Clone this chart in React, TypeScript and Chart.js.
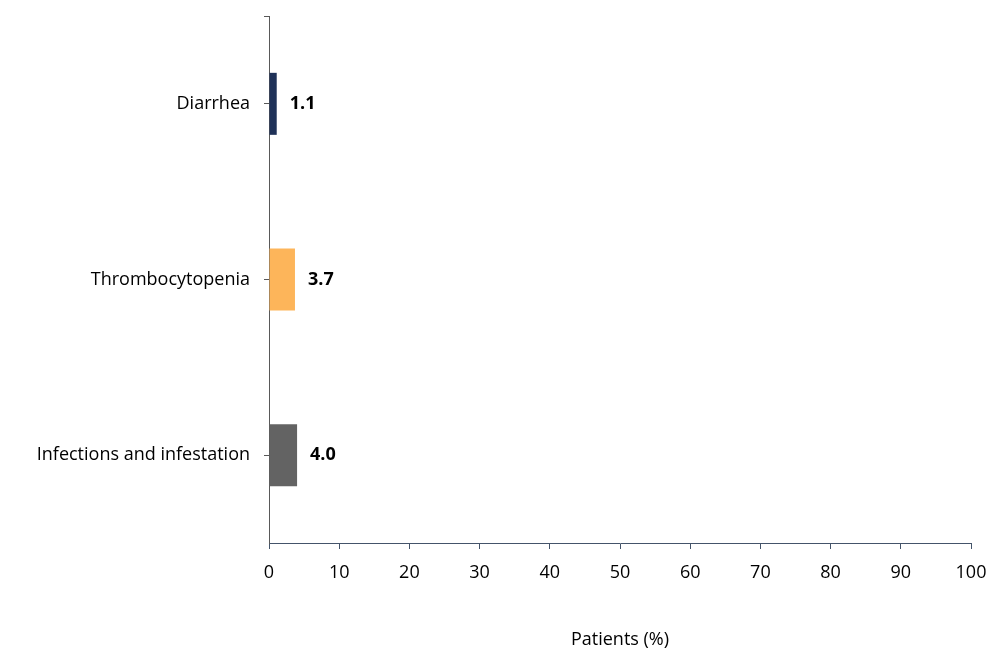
import React, { useEffect, useRef } from "react";
import { Chart, registerables } from "chart.js";

Chart.register(...registerables);

const categories = ["Diarrhea", "Thrombocytopenia", "Infections and infestation"];
const values = [1.1, 3.7, 4.0];
const barColors = ["#1f3158", "#fdb55a", "#636363"];
const xTitle = "Patients (%)";

const FONT = "'Open Sans', sans-serif";

const labelPlugin = {
  id: "valueLabels",
  afterDatasetsDraw(chart: any) {
    const ctx = chart.ctx;
    const meta = chart.getDatasetMeta(0);
    ctx.save();
    ctx.font = `bold 18px ${FONT}`;
    ctx.fillStyle = "#000";
    ctx.textAlign = "left";
    ctx.textBaseline = "middle";
    meta.data.forEach((bar: any, i: number) => {
      ctx.fillText(values[i].toFixed(1), bar.x + 13, bar.y);
    });
    // top tick on y axis
    const y = chart.scales.y;
    ctx.strokeStyle = "#595959";
    ctx.lineWidth = 1;
    ctx.beginPath();
    ctx.moveTo(y.right - 5, y.top + 0.5);
    ctx.lineTo(y.right, y.top + 0.5);
    ctx.stroke();
    ctx.restore();
  },
};

export default function App() {
  const ref = useRef<HTMLCanvasElement>(null);
  useEffect(() => {
    document.body.style.margin = "0";
    const chart = new Chart(ref.current!, {
      type: "bar",
      data: {
        labels: categories,
        datasets: [
          {
            data: values,
            backgroundColor: barColors,
            barPercentage: 0.353,
            categoryPercentage: 1,
          },
        ],
      },
      options: {
        indexAxis: "y",
        animation: false,
        responsive: true,
        maintainAspectRatio: false,
        layout: { padding: { top: 16, right: 29, left: 0, bottom: 0 } },
        plugins: { legend: { display: false }, tooltip: { enabled: false } },
        scales: {
          x: {
            min: 0,
            max: 100,
            ticks: { stepSize: 10, color: "#000", font: { size: 18, family: FONT }, padding: 13 },
            grid: { drawOnChartArea: false, drawTicks: true, tickLength: 6, color: "#44546a" },
            border: { color: "#44546a", width: 1 },
            title: { display: true, text: xTitle, color: "#000", font: { size: 18, family: FONT }, padding: { top: 26 } },
            afterFit: (s: any) => { s.height = 112; },
          },
          y: {
            ticks: { color: "#000", font: { size: 18, family: FONT }, padding: 14 },
            grid: { offset: false, drawOnChartArea: false, drawTicks: true, tickLength: 5, color: "#595959" },
            border: { color: "#595959", width: 1 },
            afterFit: (s: any) => {
              s.width = 269;
              s.paddingTop = 0;
              s.paddingBottom = 0;
            },
          },
        },
      },
      plugins: [labelPlugin],
    });
    return () => chart.destroy();
  }, []);
  return (
    <div style={{ width: 1000, height: 655, position: "relative" }}>
      <canvas ref={ref} />
    </div>
  );
}
